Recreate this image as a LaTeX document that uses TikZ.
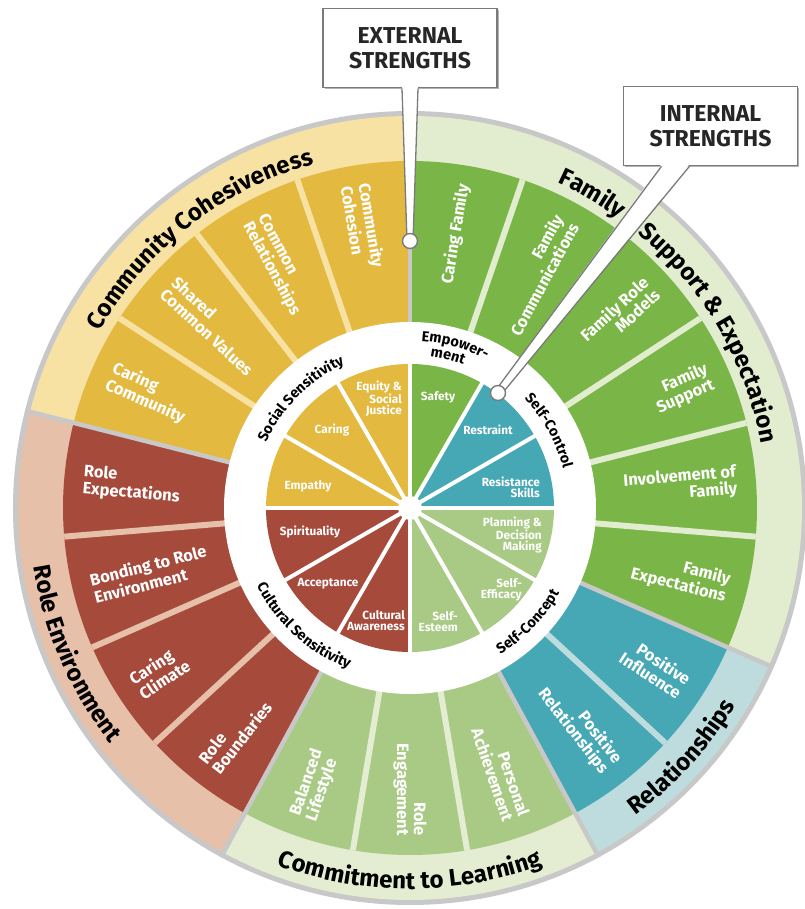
\documentclass[tikz,border=0pt]{standalone}
\usepackage{fontspec}
\setmainfont{Fira Sans}
\usepackage{xcolor}
\usepackage{tikz}
\usetikzlibrary{calc, decorations.text, shadows}

\definecolor{yelP}{HTML}{E3B940}
\definecolor{yelB}{HTML}{F7E2A4}
\definecolor{redP}{HTML}{A64A3C}
\definecolor{redB}{HTML}{E6C0A9}
\definecolor{lgrP}{HTML}{A9CA85}
\definecolor{lgrB}{HTML}{E4EDD1}
\definecolor{tealP}{HTML}{47A8B5}
\definecolor{tealB}{HTML}{BEDCDE}
\definecolor{grnP}{HTML}{7AB547}
\definecolor{grnB}{HTML}{E2ECCF}
\definecolor{rimgray}{HTML}{C8C8C8}
\definecolor{boxgray}{HTML}{7A7A7A}

\newcommand{\grpfont}{\bfseries\fontsize{24}{28}\selectfont}
\newcommand{\rngfont}{\bfseries\fontsize{14.5}{16}\selectfont}
\def\stp{18.947368}

\begin{document}
\begin{tikzpicture}[
        petal/.style={text=white, inner sep=0pt, font=\bfseries\fontsize{16.5}{17}\selectfont},
        inlab/.style={text=white, inner sep=0pt, font=\bfseries\fontsize{11.8}{11}\selectfont},
        callout/.style={rectangle, draw=boxgray, line width=1.6pt, fill=white, minimum width=174pt, minimum height=79pt, align=center, text=black!85, font=\bfseries\fontsize{23}{25}\selectfont, drop shadow={shadow xshift=1.5pt, shadow yshift=-1.5pt, fill=gray!60, opacity=1}},
        knob/.style={circle, fill=white, draw=boxgray, line width=1.4pt, minimum size=15pt, inner sep=0pt},
        ringtext/.style={decorate, decoration={text along path, text align=center, text={#1}}},
        sep/.style={line width=6pt},
        groupsep/.style={draw=rimgray, line width=4.5pt}
    ]
    \useasboundingbox (-410pt,-401pt) rectangle (394pt,508pt);

    % Rim and bands
    \fill[rimgray] (0,0) circle[radius=397pt];
    \foreach \a/\b/\bc in {0/4/yelB, 4/8/redB, 8/11/lgrB, 11/13/tealB, 13/19/grnB}{
        \pgfmathsetmacro\sa{90+\a*\stp}
        \pgfmathsetmacro\sb{90+\b*\stp}
        \fill[\bc] (0,0) -- (\sa:392pt) arc[start angle=\sa, end angle=\sb, radius=392pt] -- cycle;
    }

    % Petals
    \foreach \k/\pc in {0/yelP,1/yelP,2/yelP,3/yelP,4/redP,5/redP,6/redP,7/redP,8/lgrP,9/lgrP,10/lgrP,11/tealP,12/tealP,13/grnP,14/grnP,15/grnP,16/grnP,17/grnP,18/grnP}{
        \pgfmathsetmacro\sa{90+\k*\stp}
        \pgfmathsetmacro\sb{90+(\k+1)*\stp}
        \fill[\pc] (0,0) -- (\sa:347pt) arc[start angle=\sa, end angle=\sb, radius=347pt] -- cycle;
    }
    \foreach \k/\bc in {1/yelB,2/yelB,3/yelB,5/redB,6/redB,7/redB,9/lgrB,10/lgrB,12/tealB,14/grnB,15/grnB,16/grnB,17/grnB,18/grnB}{
        \pgfmathsetmacro\sa{90+\k*\stp}
        \draw[\bc, sep] (\sa:180pt) -- (\sa:347pt);
    }
    \foreach \a in {0,4,8,11,13}{
        \pgfmathsetmacro\sa{90+\a*\stp}
        \draw[groupsep] (\sa:180pt) -- (\sa:397pt);
    }

    % Inner wheel
    \fill[white] (0,0) circle[radius=186pt];
    \foreach \j/\c in {0/tealP,1/tealP,2/grnP,3/yelP,4/yelP,5/yelP,6/redP,7/redP,8/redP,9/lgrP,10/lgrP,11/lgrP}{
        \pgfmathsetmacro\sa{\j*30}
        \pgfmathsetmacro\sb{\j*30+30}
        \fill[\c] (0,0) -- (\sa:144pt) arc[start angle=\sa, end angle=\sb, radius=144pt] -- cycle;
    }
    \foreach \j in {0,...,11}
        \draw[white, line width=4pt] (0,0) -- (\j*30:146pt);
    \fill[white] (0,0) circle[radius=12pt];

    % Group titles
    \path[ringtext={|\grpfont|Community Cohesiveness}] (163:357pt) arc[start angle=163, end angle=93, radius=357pt];
    \path[ringtext={|\grpfont|Family{\kern18pt} Support {\&} Expectation}] (88:357pt) arc[start angle=88, end angle=-12, radius=357pt];
    \path[ringtext={|\grpfont|Role Environment}] (168:381pt) arc[start angle=168, end angle=239, radius=381pt];
    \path[ringtext={|\grpfont|Commitment to Learning}] (243:381pt) arc[start angle=243, end angle=297, radius=381pt];
    \path[ringtext={|\grpfont|Relationships}] (300:381pt) arc[start angle=300, end angle=335, radius=381pt];

    % Ring titles
    \path[ringtext={|\rngfont|Social Sensitivity}] (172:158pt) arc[start angle=172, end angle=98, radius=158pt];
    \path[ringtext={|\rngfont|Empower-}] (100:167pt) arc[start angle=100, end angle=49, radius=167pt];
    \path[ringtext={|\rngfont|ment}] (96:153pt) arc[start angle=96, end angle=56, radius=153pt];
    \path[ringtext={|\rngfont|Self-Control}] (58:158pt) arc[start angle=58, end angle=0, radius=158pt];
    \path[ringtext={|\rngfont|Self-Concept}] (-78:172pt) arc[start angle=-78, end angle=-10, radius=172pt];
    \path[ringtext={|\rngfont|Cultural Sensitivity}] (190:172pt) arc[start angle=190, end angle=266, radius=172pt];

    % Petal labels
    \foreach \k/\t in {0/Community\\Cohesion, 1/Common\\Relationships, 2/Shared\\Common Values, 3/Caring\\Community, 4/Role\\Expectations, 5/Bonding to Role\\Environment, 6/Caring\\Climate, 7/Role\\Boundaries, 8/Balanced\\Lifestyle}{
        \pgfmathsetmacro\th{90+(\k+0.5)*\stp}
        \pgfmathsetmacro\rt{\th-180}
        \node[petal, anchor=west, align=left, rotate=\rt] (p\k) at (\th:328pt) {\t};
    }
    \foreach \k/\t in {9/Role\\Engagement, 10/Personal\\Achievement, 11/Positive\\Relationships, 12/Positive\\Influence, 13/Family\\Expectations, 14/Involvement of\\Family, 15/Family\\Support, 16/Family Role\\Models, 17/Family\\Communications, 18/Caring Family}{
        \pgfmathsetmacro\th{90+(\k+0.5)*\stp}
        \node[petal, anchor=east, align=right, rotate=\th] (p\k) at (\th:328pt) {\t};
    }

    % Inner labels
    \node[inlab, anchor=east, align=right] (equity) at (-8pt,109pt) {Equity \&\\Social\\Justice};
    \node[inlab] (caring) at (-78pt,78pt) {Caring};
    \node[inlab] (empathy) at (-102pt,22pt) {Empathy};
    \node[inlab] (safety) at (28pt,111pt) {Safety};
    \node[inlab] (restraint) at (78pt,78pt) {Restraint};
    \node[inlab, anchor=east, align=right] (resist) at (130pt,21pt) {Resistance\\Skills};
    \node[inlab, anchor=east, align=right] (planning) at (132pt,-27pt) {Planning \&\\Decision\\Making};
    \node[inlab, anchor=east, align=right] (efficacy) at (112pt,-82pt) {Self-\\Efficacy};
    \node[inlab, anchor=east, align=right] (esteem) at (48pt,-114pt) {Self-\\Esteem};
    \node[inlab, anchor=east, align=right] (aware) at (-5pt,-113pt) {Cultural\\Awareness};
    \node[inlab] (accept) at (-82pt,-76pt) {Acceptance};
    \node[inlab] (spirit) at (-100pt,-24pt) {Spirituality};

    % Callouts
    \node[callout] (ext) at (0pt,460pt) {EXTERNAL\\STRENGTHS};
    \node[callout] (int) at (300.5pt,382pt) {INTERNAL\\STRENGTHS};
    \coordinate (extdot) at (0pt,267pt);
    \coordinate (intdot) at (88pt,115pt);

    \fill[white] ($(ext.south)+(-8pt,2pt)$) -- ($(ext.south)+(8pt,2pt)$) -- ($(extdot)+(3pt,0pt)$) -- ($(extdot)+(-3pt,0pt)$) -- cycle;
    \draw[boxgray, line width=1.3pt] ($(ext.south)+(-8pt,0pt)$) -- ($(extdot)+(-3pt,0pt)$);
    \draw[boxgray, line width=1.3pt] ($(ext.south)+(8pt,0pt)$) -- ($(extdot)+(3pt,0pt)$);
    \node[knob] at (extdot) {};

    \fill[white] ($(int.south)+(-49pt,2pt)$) -- ($(int.south)+(-21pt,2pt)$) -- ($(intdot)+(2.75pt,-2.16pt)$) -- ($(intdot)+(-2.75pt,2.16pt)$) -- cycle;
    \draw[boxgray, line width=1.3pt] ($(int.south)+(-49pt,0pt)$) -- ($(intdot)+(-2.75pt,2.16pt)$);
    \draw[boxgray, line width=1.3pt] ($(int.south)+(-21pt,0pt)$) -- ($(intdot)+(2.75pt,-2.16pt)$);
    \node[knob] at (intdot) {};

\end{tikzpicture}
\end{document}
